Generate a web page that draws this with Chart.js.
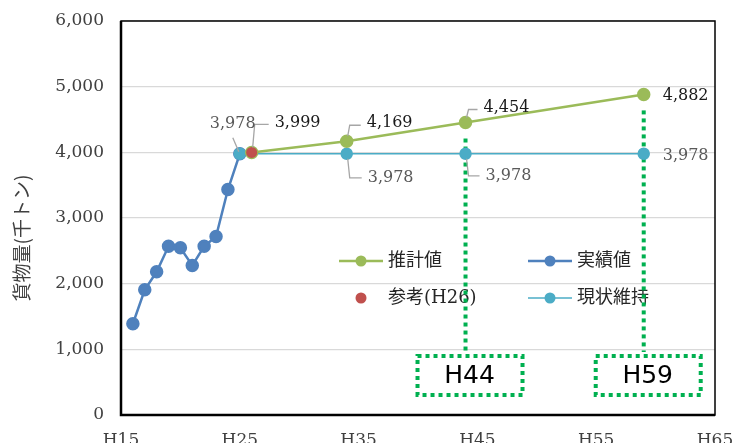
<!DOCTYPE html>
<html>
<head>
<meta charset="utf-8">
<script src="https://cdn.jsdelivr.net/npm/chart.js@4"></script>
<style>
  body { margin: 0; overflow: hidden; background: #fff; }
</style>
</head>
<body>
<canvas id="myChart" width="733" height="460"></canvas>
<script>
// years are Heisei years (H16 = 16)
const actualYears = [16, 17, 18, 19, 20, 21, 22, 23, 24, 25];
const actualValues = [1390, 1906, 2181, 2570, 2546, 2277, 2570, 2718, 3434, 3978];
const estimateYears = [26, 34, 44, 59];
const estimateValues = [3999, 4169, 4454, 4882];
const referenceYears = [26];
const referenceValues = [3999];
const currentYears = [25, 34, 44, 59];
const currentValues = [3978, 3978, 3978, 3978];
const xTickYears = [15, 25, 35, 45, 55, 65];
const xTickLabels = ["H15", "H25", "H35", "H45", "H55", "H65"];
const targetYears = [44, 59];
const targetLabels = ["H44", "H59"];

const serif = "'DejaVu Serif', 'Noto Sans CJK JP', serif";
const pts = (xs, ys) => xs.map((x, i) => ({ x: x, y: ys[i] }));
const fmt = (v) => v.toLocaleString("en-US");

// where each data label sits, relative to its point (px)
const labelPlacement = [
  { ds: 0, i: 1, dx: 20, dy: -18, leader: "elbow" },
  { ds: 0, i: 2, dx: 18, dy: -15, leader: "elbow" },
  { ds: 0, i: 3, dx: 19, dy: 1 },
  { ds: 2, i: 0, dx: 23, dy: -30, leader: "elbow" },
  { ds: 3, i: 0, dx: -30, dy: -30, leader: "straight" },
  { ds: 3, i: 1, dx: 21, dy: 24, leader: "elbow" },
  { ds: 3, i: 2, dx: 20, dy: 22, leader: "elbow" },
  { ds: 3, i: 3, dx: 19, dy: 2 },
];

const dataLabels = {
  id: "dataLabels",
  afterDatasetsDraw(chart) {
    const ctx = chart.ctx;
    ctx.save();
    ctx.font = "16px " + serif;
    ctx.textBaseline = "middle";
    ctx.textAlign = "left";
    labelPlacement.forEach((p) => {
      const pt = chart.getDatasetMeta(p.ds).data[p.i];
      const val = chart.data.datasets[p.ds].data[p.i].y;
      const tx = pt.x + p.dx;
      const ty = pt.y + p.dy;
      ctx.strokeStyle = "#a6a6a6";
      ctx.lineWidth = 1.3;
      if (p.leader === "elbow") {
        const s = p.dy < 0 ? -1 : 1;
        ctx.beginPath();
        ctx.moveTo(pt.x + 1, pt.y + s * 5);
        ctx.lineTo(pt.x + 3, ty + (s < 0 ? 2 : 0));
        ctx.lineTo(tx - 6, ty + (s < 0 ? 2 : 0));
        ctx.stroke();
      } else if (p.leader === "straight") {
        ctx.beginPath();
        ctx.moveTo(pt.x - 7, pt.y - 16);
        ctx.lineTo(pt.x - 1, pt.y - 2);
        ctx.stroke();
      }
      ctx.fillStyle = p.ds === 3 ? "#595959" : "#1a1a1a";
      ctx.fillText(fmt(val), tx, ty);
    });
    ctx.restore();
  },
};

const insideLegend = {
  id: "insideLegend",
  beforeDatasetsDraw(chart) {
    const ctx = chart.ctx;
    const a = chart.chartArea;
    const cols = [a.left + 240, a.left + 429];
    const rows = [a.top + 240, a.top + 277];
    ctx.save();
    ctx.font = "18px " + serif;
    ctx.textBaseline = "middle";
    chart.data.datasets.forEach((ds, k) => {
      const cx = cols[k % 2];
      const cy = rows[Math.floor(k / 2)];
      if (ds.showLine !== false) {
        ctx.strokeStyle = ds.borderColor;
        ctx.lineWidth = ds.borderWidth;
        ctx.beginPath();
        ctx.moveTo(cx - 22, cy);
        ctx.lineTo(cx + 22, cy);
        ctx.stroke();
      }
      ctx.fillStyle = ds.backgroundColor;
      ctx.beginPath();
      ctx.arc(cx, cy, 5.5, 0, Math.PI * 2);
      ctx.fill();
      ctx.fillStyle = "#262626";
      ctx.fillText(ds.label, cx + 27, cy);
    });
    ctx.restore();
  },
};

const targetMarks = {
  id: "targetMarks",
  beforeDatasetsDraw(chart) {
    const ctx = chart.ctx;
    const xs = chart.scales.x;
    const ys = chart.scales.y;
    const boxTop = chart.chartArea.bottom - 59;
    ctx.save();
    ctx.strokeStyle = "#00b050";
    ctx.lineWidth = 4;
    ctx.setLineDash([4, 4]);
    targetYears.forEach((yr, k) => {
      const x = xs.getPixelForValue(yr);
      const idx = estimateYears.indexOf(yr);
      const top = ys.getPixelForValue(estimateValues[idx]) + 16;
      ctx.beginPath();
      ctx.moveTo(x, top);
      ctx.lineTo(x, boxTop - 4);
      ctx.stroke();
      ctx.strokeRect(x + 4 - 52, boxTop, 105, 39);
      ctx.fillStyle = "#000";
      ctx.font = "25px 'DejaVu Sans'";
      ctx.textAlign = "center";
      ctx.textBaseline = "middle";
      ctx.fillText(targetLabels[k], x + 4, boxTop + 20);
    });
    ctx.restore();
  },
};

const frame = {
  id: "frame",
  afterDraw(chart) {
    const ctx = chart.ctx;
    const a = chart.chartArea;
    ctx.save();
    ctx.strokeStyle = "#000";
    ctx.lineWidth = 1.5;
    ctx.strokeRect(a.left, a.top, a.right - a.left, a.bottom - a.top);
    ctx.lineWidth = 2.5;
    ctx.beginPath();
    ctx.moveTo(a.left, a.top);
    ctx.lineTo(a.left, a.bottom);
    ctx.lineTo(a.right, a.bottom);
    ctx.stroke();
    // axis title
    ctx.translate(22, 238);
    ctx.rotate(-Math.PI / 2);
    ctx.font = "19px 'Noto Sans CJK JP'";
    ctx.fillStyle = "#404040";
    ctx.textAlign = "center";
    ctx.textBaseline = "middle";
    ctx.fillText("貨物量(千トン)", 0, 0);
    ctx.restore();
  },
};

new Chart("myChart", {
  type: "line",
  data: {
    datasets: [
      {
        label: "推計値",
        data: pts(estimateYears, estimateValues),
        borderColor: "#9bbb59",
        backgroundColor: "#9bbb59",
        borderWidth: 2.5,
        order: 1,
      },
      {
        label: "実績値",
        data: pts(actualYears, actualValues),
        borderColor: "#4f81bd",
        backgroundColor: "#4f81bd",
        borderWidth: 2.5,
        order: 3,
      },
      {
        label: "参考(H26)",
        data: pts(referenceYears, referenceValues),
        borderColor: "#c0504d",
        backgroundColor: "#c0504d",
        showLine: false,
        order: 0,
      },
      {
        label: "現状維持",
        data: pts(currentYears, currentValues),
        borderColor: "#4bacc6",
        backgroundColor: "#4bacc6",
        borderWidth: 1.5,
        order: 2,
      },
    ],
  },
  options: {
    responsive: false,
    animation: false,
    layout: { padding: { top: 21, right: 18, left: 0, bottom: 0 } },
    elements: { point: { radius: 5.5, borderWidth: 0, hoverRadius: 5.5 } },
    plugins: { legend: { display: false }, tooltip: { enabled: false } },
    scales: {
      x: {
        type: "linear",
        min: 15,
        max: 65,
        afterBuildTicks: (s) => { s.ticks = xTickYears.map((v) => ({ value: v })); },
        afterFit: (s) => {
          s.height = 45;
          s.paddingLeft = 0;
          s.paddingRight = 0;
        },
        grid: { display: false, drawTicks: false },
        border: { display: false },
        ticks: {
          padding: 15,
          maxRotation: 0,
          color: "#404040",
          font: { family: serif, size: 17 },
          callback: (v) => xTickLabels[xTickYears.indexOf(v)],
        },
      },
      y: {
        min: 0,
        max: 6000,
        afterFit: (s) => {
          s.width = 121;
          s.paddingTop = 0;
          s.paddingBottom = 0;
        },
        grid: { color: "#d9d9d9", lineWidth: 1.3, drawTicks: false },
        border: { display: false },
        ticks: {
          stepSize: 1000,
          padding: 17,
          color: "#404040",
          font: { family: serif, size: 17 },
          callback: (v) => fmt(v),
        },
      },
    },
  },
  plugins: [insideLegend, targetMarks, dataLabels, frame],
});
</script>
</body>
</html>
